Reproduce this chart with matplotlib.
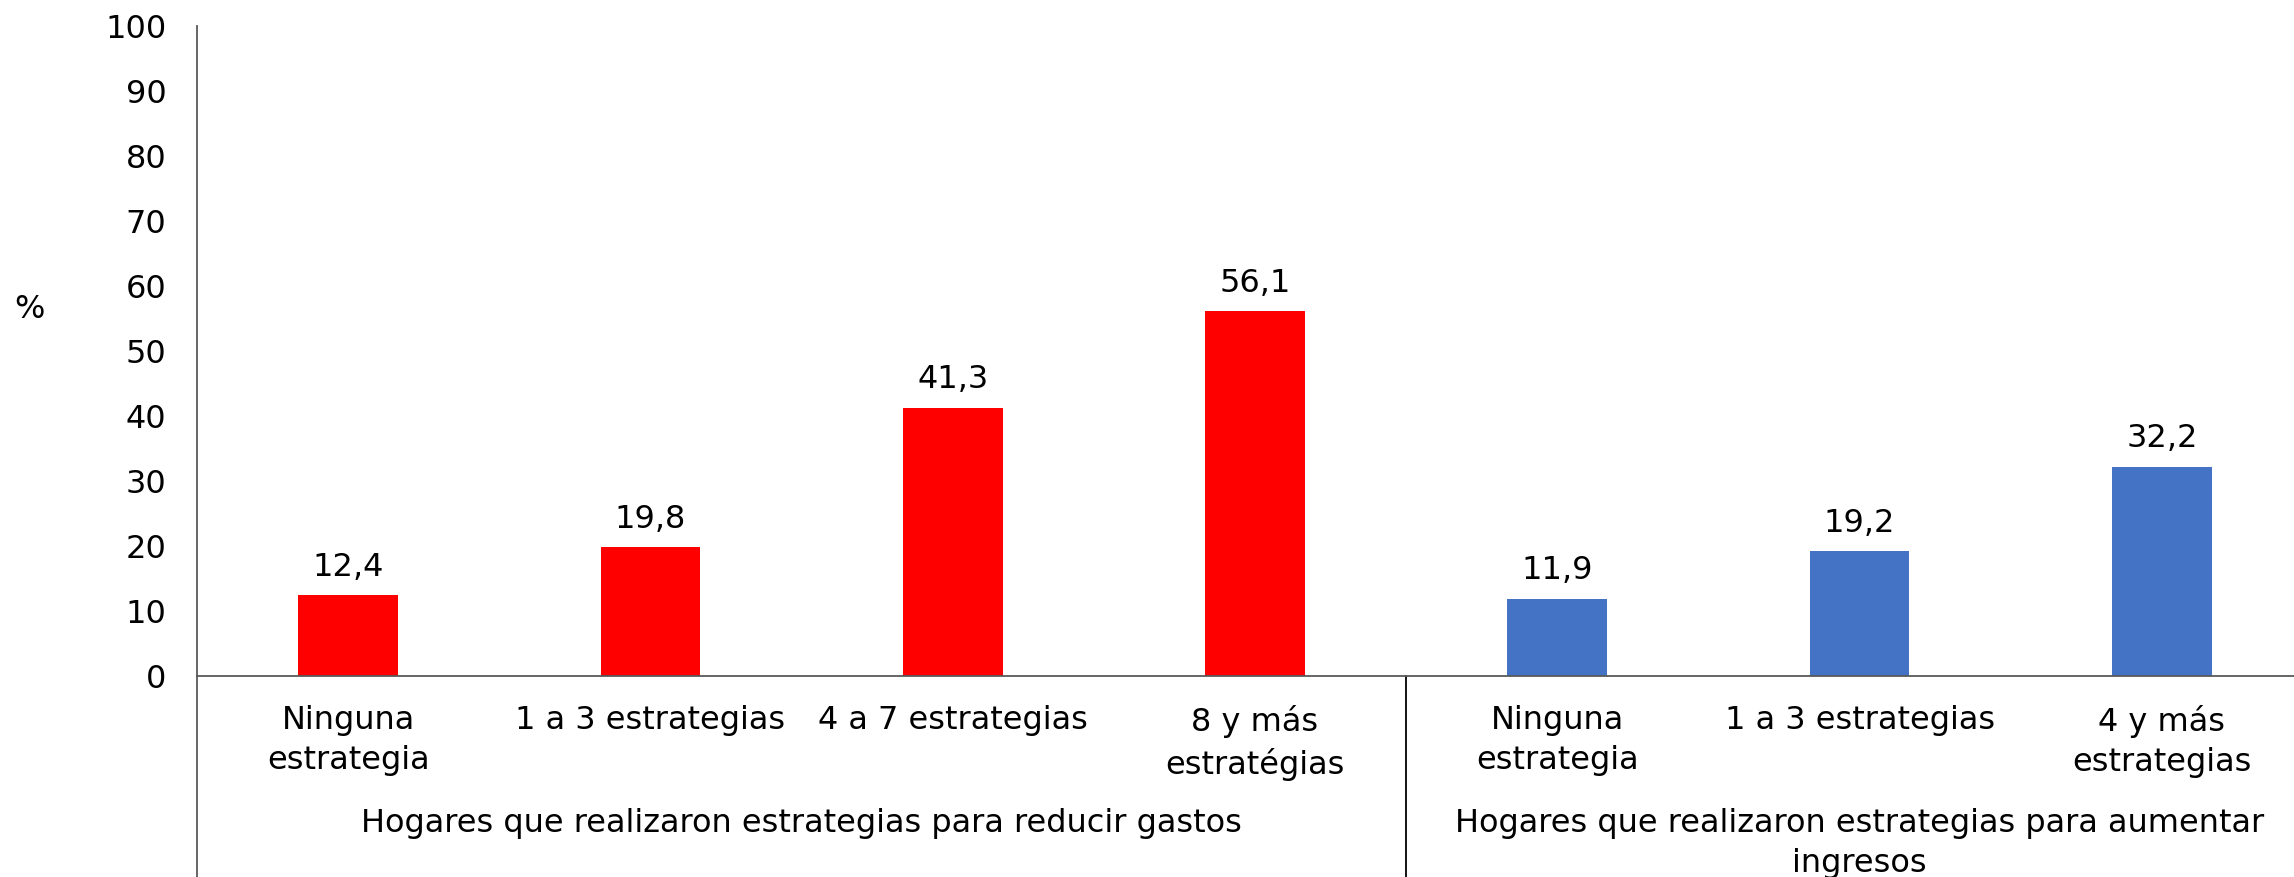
import matplotlib.pyplot as plt
from matplotlib import transforms

plt.rcParams['font.family'] = ['DejaVu Sans']

# data
categories = ["Ninguna\nestrategia", "1 a 3 estrategias", "4 a 7 estrategias", "8 y más\nestratégias",
              "Ninguna\nestrategia", "1 a 3 estrategias", "4 y más\nestrategias"]
values = [12.4, 19.8, 41.3, 56.1, 11.9, 19.2, 32.2]
bar_colors = ["#FF0000"] * 4 + ["#4472C4"] * 3
groups = ["Hogares que realizaron estrategias para reducir gastos",
          "Hogares que realizaron estrategias para aumentar\ningresos"]
group_centers = [1.5, 5.0]

fs = 23

fig = plt.figure(figsize=(22.94, 8.77), dpi=100)
ax = fig.add_axes([197 / 2294, 1 - 676 / 877, 1 - 197 / 2294, (676 - 26) / 877])

x = list(range(len(values)))
ax.bar(x, values, width=0.33, color=bar_colors, zorder=2)

for xi, v in zip(x, values):
    ax.annotate(f"{v:.1f}".replace(".", ","), (xi, v), xytext=(0, 14), textcoords="offset points",
                ha="center", va="baseline", fontsize=fs)

ax.set_ylim(0, 100)
ax.set_xlim(-0.5, 6.437)
ax.set_yticks(range(0, 101, 10))
ax.set_xticks(x)
ax.set_xticklabels(categories, fontsize=fs, linespacing=1.38)
ax.tick_params(axis="y", length=0, pad=22, labelsize=fs)
ax.tick_params(axis="x", length=0, pad=21)

for s in ["top", "right"]:
    ax.spines[s].set_visible(False)
ax.spines["left"].set_color("#595959")
ax.spines["bottom"].set_color("#595959")
ax.spines["left"].set_linewidth(1.3)
ax.spines["bottom"].set_linewidth(1.3)

# lines under the axis separating the groups
below = -(877 - 676) / 650
trans = transforms.blended_transform_factory(ax.transData, ax.transAxes)
ax.plot([-0.5, -0.5], [0, below], color="#595959", lw=1.3, transform=trans, clip_on=False)
ax.plot([3.5, 3.5], [0, below], color="black", lw=1.3, transform=trans, clip_on=False)

for gx, g in zip(group_centers, groups):
    ax.text(gx, -20.3, g, ha="center", va="top", fontsize=fs, linespacing=1.38, clip_on=False)

fig.text(29 / 2294, 1 - 310 / 877, "%", ha="center", va="center", fontsize=fs)

fig.savefig("out.png", dpi=100)
